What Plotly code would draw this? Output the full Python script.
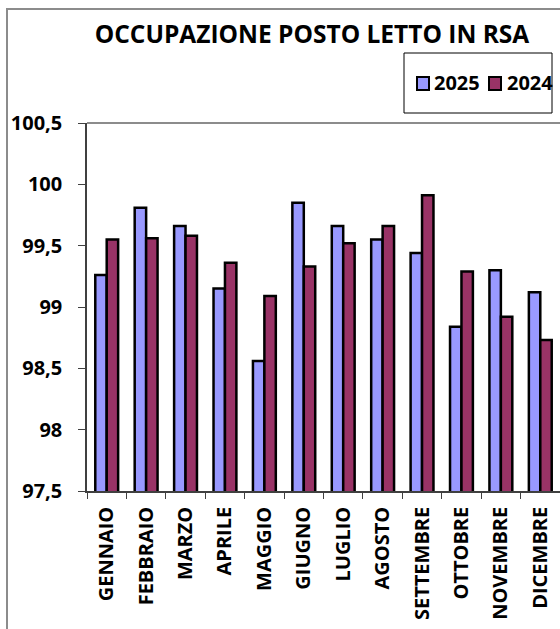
import plotly.graph_objects as go

months = ["GENNAIO", "FEBBRAIO", "MARZO", "APRILE", "MAGGIO", "GIUGNO",
          "LUGLIO", "AGOSTO", "SETTEMBRE", "OTTOBRE", "NOVEMBRE", "DICEMBRE"]
values_2025 = [99.26, 99.81, 99.66, 99.15, 98.56, 99.85,
               99.66, 99.55, 99.44, 98.84, 99.30, 99.12]
values_2024 = [99.55, 99.56, 99.58, 99.36, 99.09, 99.33,
               99.52, 99.66, 99.91, 99.29, 98.92, 98.73]
y_ticks = [97.5, 98, 98.5, 99, 99.5, 100, 100.5]
series_names = ["2025", "2024"]
series_colors = ["#9999FF", "#993366"]

FONT = "Open Sans"
W, H = 560, 629
L, T, R, B = 87, 123, 0, 138
PW, PH = W - L - R, H - T - B

def px(x):
    return (x - L) / PW

def py(y):
    return 1 - (y - T) / PH

fig = go.Figure()
for name, vals, col in zip(series_names, [values_2025, values_2024], series_colors):
    fig.add_trace(go.Bar(name=name, x=months, y=vals,
                         marker=dict(color=col, line=dict(color="black", width=2.5))))

bold = dict(family=FONT, color="black", size=20, weight="bold")

fig.update_layout(
    width=W, height=H,
    margin=dict(l=L, r=R, t=T, b=B, pad=0),
    paper_bgcolor="white", plot_bgcolor="white",
    separators=",.",
    barmode="group", bargap=0.42, bargroupgap=0,
    font=dict(family=FONT, color="black"),
    title=dict(text="OCCUPAZIONE POSTO LETTO IN RSA",
               x=312 / W, xanchor="center", y=1 - 34 / H, yanchor="middle",
               font=dict(size=24.5, family=FONT, color="black", weight="bold")),
    showlegend=False,
    xaxis=dict(type="category", tickangle=-90, ticks="outside", tickson="boundaries",
               ticklen=6, tickcolor="#404040", showline=True, linecolor="#404040",
               linewidth=1.5, showgrid=False, tickfont=bold, ticklabelstandoff=6),
    yaxis=dict(range=[97.5, 100.5], tickvals=y_ticks, ticks="outside", ticklen=7,
               tickcolor="#404040", showline=True, linecolor="#404040", linewidth=1.5,
               showgrid=False, zeroline=False, tickfont=bold, ticklabelstandoff=12),
)

# outer chart border
fig.add_shape(type="rect", xref="paper", yref="paper",
              x0=px(7), x1=px(W + 20), y0=py(H + 20), y1=py(9),
              line=dict(color="#8c8c8c", width=2), fillcolor="rgba(0,0,0,0)", layer="below")
# plot area top border
fig.add_shape(type="line", xref="paper", yref="paper",
              x0=0, x1=1, y0=1, y1=1, line=dict(color="#8c8c8c", width=2))
# legend box
fig.add_shape(type="rect", xref="paper", yref="paper",
              x0=px(404), x1=px(552), y0=py(113), y1=py(53),
              line=dict(color="black", width=1), fillcolor="white")
# legend entries
for name, col, sx, tx in zip(series_names, series_colors, [416, 488], [432, 505]):
    fig.add_shape(type="rect", xref="paper", yref="paper",
                  x0=px(sx + 1), x1=px(sx + 13), y0=py(90), y1=py(77),
                  line=dict(color="black", width=2), fillcolor=col)
    fig.add_annotation(text=name, xref="paper", yref="paper", x=px(tx), y=py(83),
                       xanchor="left", yanchor="middle", showarrow=False,
                       font=bold)

fig.write_html("out.html", config={"displayModeBar": False},
               post_script="document.body.style.margin='0';")
